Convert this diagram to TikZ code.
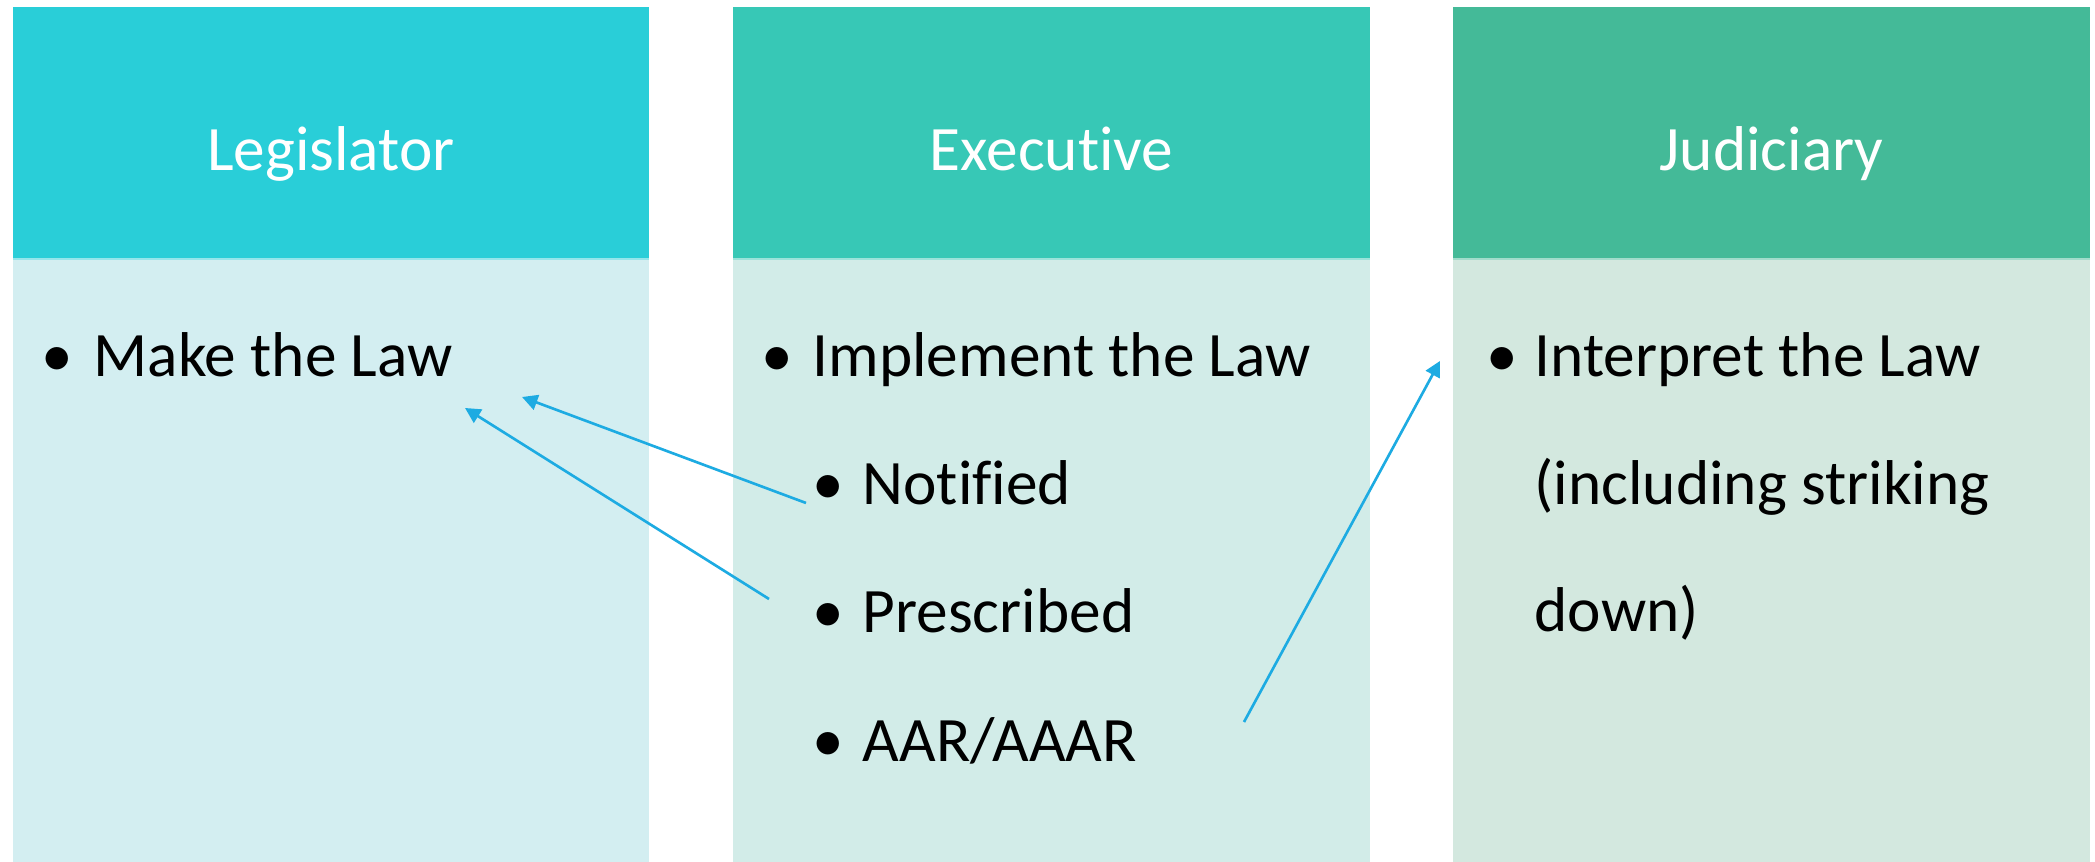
\documentclass[tikz,border=0pt]{standalone}
\usepackage{fontspec}
\setmainfont{Carlito}[Ligatures=NoCommon]
\usetikzlibrary{arrows.meta}
\definecolor{hA}{RGB}{41,206,216}
\definecolor{hB}{RGB}{55,200,182}
\definecolor{hC}{RGB}{68,186,152}
\definecolor{bA}{RGB}{211,238,241}
\definecolor{bB}{RGB}{210,236,232}
\definecolor{bC}{RGB}{211,232,223}
\definecolor{arr}{RGB}{29,171,226}
\tikzset{
  headbox/.style={inner sep=0pt, minimum width=6.36cm, minimum height=2.53cm, draw=none},
  bodybox/.style={inner sep=0pt, minimum width=6.36cm, minimum height=6.04cm, draw=none},
  headtxt/.style={anchor=base, inner sep=0pt, text=white, font=\fontsize{18}{22}\selectfont},
  bodytxt/.style={anchor=base west, inner sep=0pt, text=black, font=\fontsize{18}{22}\selectfont},
  bul/.style={anchor=base, inner sep=0pt, text=black, font=\fontsize{18}{22}\selectfont},
  conn/.style={draw=arr, line width=0.75pt, -{Triangle[length=4.4pt,width=4.4pt]}}
}
\begin{document}
\begin{tikzpicture}[x=0.01cm,y=-0.01cm]
\useasboundingbox (0,0) rectangle (2095,862);
\fill[white] (0,0) rectangle (2095,862);
% boxes
\node[headbox, fill=hA] (h1) at (331,133.5) {};
\node[headbox, fill=hB] (h2) at (1051.5,133.5) {};
\node[headbox, fill=hC] (h3) at (1771.5,133.5) {};
\node[bodybox, fill=bA] (b1) at (331,562) {};
\node[bodybox, fill=bB] (b2) at (1051.5,562) {};
\node[bodybox, fill=bC] (b3) at (1771.5,562) {};
\draw[white, opacity=0.5, line width=0.4pt] (b1.north west) -- (b1.north east);
\draw[white, opacity=0.5, line width=0.4pt] (b2.north west) -- (b2.north east);
\draw[white, opacity=0.5, line width=0.4pt] (b3.north west) -- (b3.north east);
% header texts
\node[headtxt] (t1) at (331,171) {Legislator};
\node[headtxt] (t2) at (1051.5,171) {Executive};
\node[headtxt] (t3) at (1771.5,171) {Judiciary};
% column 1
\node[bul] (p1) at (57,377) {•};
\node[bodytxt] (l1) at (93,377) {Make the Law};
% column 2
\node[bul] (p2) at (777,377) {•};
\node[bodytxt] (l2) at (812,377) {Implement the Law};
\node[bul] (p3) at (828,505) {•};
\node[bodytxt] (l3) at (862,505) {Notified};
\node[bul] (p4) at (828,633) {•};
\node[bodytxt] (l4) at (862,633) {Prescribed};
\node[bul] (p5) at (828,762) {•};
\node[bodytxt] (l5) at (862,762) {AAR/AAAR};
% column 3
\node[bul] (p6) at (1502,377) {•};
\node[bodytxt] (l6) at (1534,377) {Interpret the Law};
\node[bodytxt] (l7) at (1534,505) {(including striking};
\node[bodytxt] (l8) at (1534,632) {down)};
% connectors
\coordinate (a1s) at (806,503);
\coordinate (a1e) at (522,397);
\coordinate (a2s) at (769,599);
\coordinate (a2e) at (465,408);
\coordinate (a3s) at (1244,722);
\coordinate (a3e) at (1440,361);
\draw[conn] (a1s) -- (a1e);
\draw[conn] (a2s) -- (a2e);
\draw[conn] (a3s) -- (a3e);
\end{tikzpicture}
\end{document}
